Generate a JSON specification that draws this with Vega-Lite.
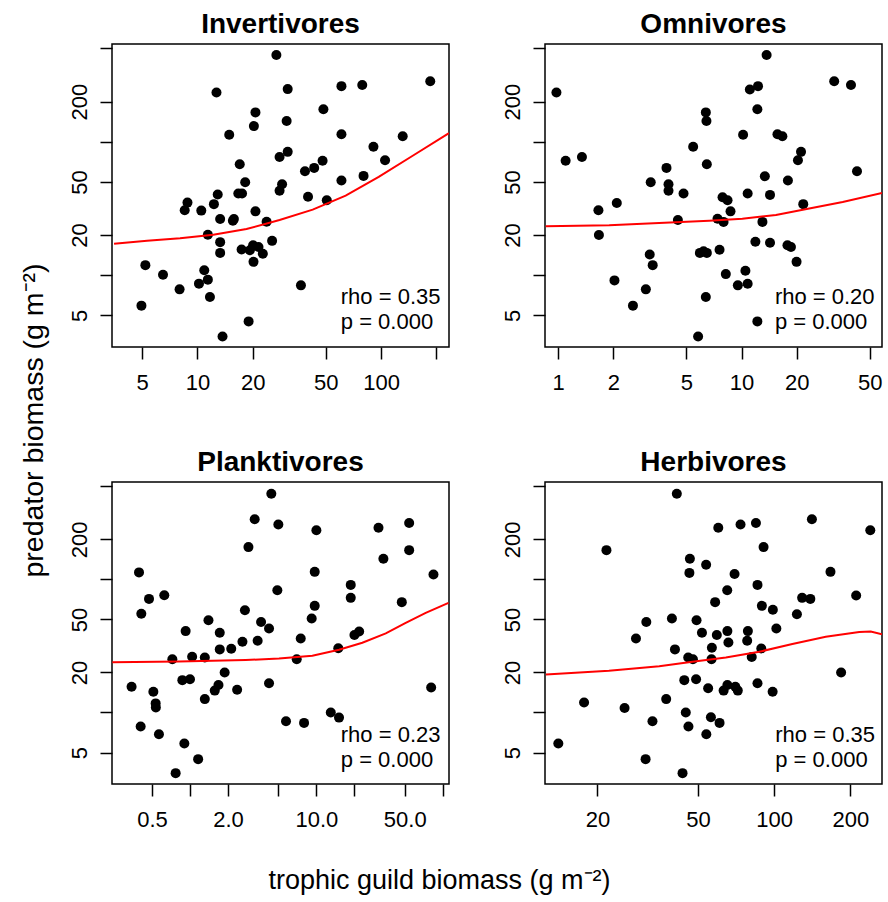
{
  "$schema": "https://vega.github.io/schema/vega-lite/v6.json",
  "background": "white",
  "padding": {"left": 18, "top": 10, "right": 5, "bottom": 3},
  "config": {
    "font": "Liberation Sans",
    "view": {"stroke": "black", "strokeWidth": 1.5},
    "axis": {"grid": false, "domain": false, "tickColor": "black", "tickWidth": 1.5, "tickSize": 12, "labelFont": "Liberation Sans", "labelFontSize": 22, "labelColor": "black", "labelOverlap": false, "labelFlush": false, "labelBound": false, "titleFont": "Liberation Sans", "titleFontSize": 27, "titleFontWeight": "normal", "titleColor": "black"},
    "axisX": {"labelPadding": 13},
    "axisY": {"labelPadding": 14, "labelAngle": 270, "labelAlign": "center", "labelBaseline": "alphabetic"},
    "title": {"font": "Liberation Sans", "fontSize": 28, "fontWeight": "bold", "color": "black", "anchor": "middle", "offset": 5, "baseline": "alphabetic"}
  },
  "datasets": {
    "inv_pts": [
      {"guild": 26.9, "predator": 446}, {"guild": 185, "predator": 284}, {"guild": 12.7, "predator": 234}, {"guild": 31.0, "predator": 248}, {"guild": 60.8, "predator": 261}, {"guild": 78.9, "predator": 266}, {"guild": 48.5, "predator": 175}, {"guild": 20.7, "predator": 166}, {"guild": 30.6, "predator": 143}, {"guild": 20.3, "predator": 131}, {"guild": 14.9, "predator": 113}, {"guild": 60.8, "predator": 114}, {"guild": 131, "predator": 110}, {"guild": 90.8, "predator": 91.7}, {"guild": 31.0, "predator": 84}, {"guild": 28.0, "predator": 76.9}, {"guild": 105, "predator": 72.6}, {"guild": 17.0, "predator": 67.9}, {"guild": 48.0, "predator": 72.0}, {"guild": 43.2, "predator": 63.7}, {"guild": 38.5, "predator": 60.1}, {"guild": 80.2, "predator": 55.5}, {"guild": 60.8, "predator": 51.2}, {"guild": 18.2, "predator": 49.8}, {"guild": 28.9, "predator": 48.1}, {"guild": 28.0, "predator": 42.9}, {"guild": 12.9, "predator": 40.2}, {"guild": 17.5, "predator": 40.9}, {"guild": 16.7, "predator": 40.9}, {"guild": 40.0, "predator": 38.7}, {"guild": 50.6, "predator": 36.5}, {"guild": 8.83, "predator": 35.0}, {"guild": 8.53, "predator": 30.7}, {"guild": 12.3, "predator": 34.1}, {"guild": 10.5, "predator": 30.5}, {"guild": 20.7, "predator": 30.1}, {"guild": 13.3, "predator": 26.4}, {"guild": 15.6, "predator": 25.6}, {"guild": 15.8, "predator": 26.4}, {"guild": 23.8, "predator": 25.2}, {"guild": 11.4, "predator": 20.1}, {"guild": 13.3, "predator": 17.7}, {"guild": 25.5, "predator": 18.1}, {"guild": 13.3, "predator": 14.7}, {"guild": 17.4, "predator": 15.6}, {"guild": 19.3, "predator": 15.4}, {"guild": 20.1, "predator": 16.8}, {"guild": 21.5, "predator": 16.3}, {"guild": 22.7, "predator": 14.5}, {"guild": 20.2, "predator": 12.6}, {"guild": 5.21, "predator": 11.9}, {"guild": 6.50, "predator": 10.1}, {"guild": 10.9, "predator": 10.9}, {"guild": 11.4, "predator": 9.27}, {"guild": 10.2, "predator": 8.65}, {"guild": 8.0, "predator": 7.84}, {"guild": 11.7, "predator": 6.88}, {"guild": 36.6, "predator": 8.40}, {"guild": 4.96, "predator": 5.92}, {"guild": 19.0, "predator": 4.51}, {"guild": 13.7, "predator": 3.48}
    ],
    "inv_fit": [
      {"guild": 3.52, "predator": 17.2}, {"guild": 5.32, "predator": 18.1}, {"guild": 8.05, "predator": 18.9}, {"guild": 12.2, "predator": 20.1}, {"guild": 18.5, "predator": 22.2}, {"guild": 28.0, "predator": 25.9}, {"guild": 42.4, "predator": 31.0}, {"guild": 64.1, "predator": 39.5}, {"guild": 97.0, "predator": 54.5}, {"guild": 147, "predator": 77.9}, {"guild": 227, "predator": 113}, {"guild": 234, "predator": 116}
    ],
    "inv_txt": [
      {"guild": 60.3, "predator": 6.86, "label": "rho = 0.35"}, {"guild": 60.3, "predator": 4.46, "label": "p = 0.000"}
    ],
    "omn_pts": [
      {"guild": 0.98, "predator": 234}, {"guild": 13.7, "predator": 446}, {"guild": 32.0, "predator": 284}, {"guild": 39.5, "predator": 266}, {"guild": 11.1, "predator": 246}, {"guild": 12.3, "predator": 261}, {"guild": 12.2, "predator": 175}, {"guild": 6.39, "predator": 166}, {"guild": 6.44, "predator": 143}, {"guild": 10.2, "predator": 113}, {"guild": 15.7, "predator": 114}, {"guild": 16.7, "predator": 110}, {"guild": 5.45, "predator": 91.7}, {"guild": 21.1, "predator": 84}, {"guild": 20.3, "predator": 72.6}, {"guild": 1.10, "predator": 72.0}, {"guild": 1.35, "predator": 76.9}, {"guild": 6.47, "predator": 67.9}, {"guild": 3.90, "predator": 63.7}, {"guild": 42.6, "predator": 60.1}, {"guild": 13.4, "predator": 55.2}, {"guild": 17.9, "predator": 51.2}, {"guild": 3.20, "predator": 49.8}, {"guild": 4.0, "predator": 48.1}, {"guild": 4.0, "predator": 42.9}, {"guild": 4.83, "predator": 40.9}, {"guild": 10.8, "predator": 40.9}, {"guild": 14.3, "predator": 40.0}, {"guild": 7.88, "predator": 38.4}, {"guild": 8.39, "predator": 36.5}, {"guild": 2.09, "predator": 34.8}, {"guild": 1.66, "predator": 30.7}, {"guild": 21.7, "predator": 34.1}, {"guild": 8.71, "predator": 30.1}, {"guild": 4.50, "predator": 25.9}, {"guild": 7.40, "predator": 26.5}, {"guild": 7.98, "predator": 25.1}, {"guild": 13.0, "predator": 25.1}, {"guild": 1.67, "predator": 20.0}, {"guild": 11.9, "predator": 17.8}, {"guild": 14.3, "predator": 17.5}, {"guild": 17.8, "predator": 16.8}, {"guild": 18.6, "predator": 16.3}, {"guild": 7.59, "predator": 15.5}, {"guild": 5.93, "predator": 14.7}, {"guild": 6.47, "predator": 14.7}, {"guild": 6.21, "predator": 15.1}, {"guild": 3.16, "predator": 14.3}, {"guild": 3.28, "predator": 11.9}, {"guild": 19.95, "predator": 12.6}, {"guild": 10.5, "predator": 10.8}, {"guild": 8.21, "predator": 10.2}, {"guild": 2.03, "predator": 9.15}, {"guild": 9.55, "predator": 8.40}, {"guild": 10.8, "predator": 8.64}, {"guild": 3.01, "predator": 7.84}, {"guild": 6.39, "predator": 6.88}, {"guild": 2.56, "predator": 5.92}, {"guild": 12.2, "predator": 4.51}, {"guild": 5.80, "predator": 3.48}
    ],
    "omn_fit": [
      {"guild": 0.857, "predator": 23.3}, {"guild": 1.90, "predator": 23.7}, {"guild": 4.38, "predator": 24.9}, {"guild": 6.66, "predator": 25.6}, {"guild": 10.1, "predator": 26.5}, {"guild": 15.4, "predator": 28.3}, {"guild": 23.4, "predator": 31.6}, {"guild": 35.6, "predator": 35.4}, {"guild": 58.3, "predator": 41.4}
    ],
    "omn_txt": [
      {"guild": 15.2, "predator": 6.86, "label": "rho = 0.20"}, {"guild": 15.2, "predator": 4.46, "label": "p = 0.000"}
    ],
    "plk_pts": [
      {"guild": 4.40, "predator": 441}, {"guild": 3.25, "predator": 283}, {"guild": 5.0, "predator": 259}, {"guild": 10.0, "predator": 234}, {"guild": 31.0, "predator": 245}, {"guild": 54.2, "predator": 266}, {"guild": 2.90, "predator": 175}, {"guild": 54.2, "predator": 166}, {"guild": 33.9, "predator": 143}, {"guild": 0.395, "predator": 113}, {"guild": 9.70, "predator": 114}, {"guild": 84.4, "predator": 109}, {"guild": 18.7, "predator": 91.0}, {"guild": 4.91, "predator": 83.0}, {"guild": 0.474, "predator": 71.4}, {"guild": 0.626, "predator": 76.1}, {"guild": 18.7, "predator": 72.7}, {"guild": 47.4, "predator": 67.5}, {"guild": 9.70, "predator": 63.3}, {"guild": 0.412, "predator": 55.2}, {"guild": 2.72, "predator": 58.7}, {"guild": 1.40, "predator": 49.4}, {"guild": 9.18, "predator": 50.9}, {"guild": 3.65, "predator": 47.8}, {"guild": 4.22, "predator": 42.8}, {"guild": 0.924, "predator": 40.9}, {"guild": 1.72, "predator": 39.7}, {"guild": 21.8, "predator": 40.6}, {"guild": 20.0, "predator": 38.2}, {"guild": 7.52, "predator": 36.0}, {"guild": 2.60, "predator": 34.0}, {"guild": 3.43, "predator": 34.6}, {"guild": 1.72, "predator": 29.8}, {"guild": 2.12, "predator": 30.1}, {"guild": 14.9, "predator": 30.4}, {"guild": 0.725, "predator": 25.1}, {"guild": 1.04, "predator": 26.2}, {"guild": 1.31, "predator": 25.9}, {"guild": 6.99, "predator": 25.1}, {"guild": 1.88, "predator": 20.0}, {"guild": 0.870, "predator": 17.5}, {"guild": 1.0, "predator": 17.8}, {"guild": 4.22, "predator": 16.6}, {"guild": 1.68, "predator": 16.1}, {"guild": 1.57, "predator": 14.6}, {"guild": 2.36, "predator": 14.8}, {"guild": 0.345, "predator": 15.6}, {"guild": 0.513, "predator": 14.3}, {"guild": 80.9, "predator": 15.4}, {"guild": 1.31, "predator": 12.6}, {"guild": 0.535, "predator": 11.7}, {"guild": 0.537, "predator": 10.9}, {"guild": 13.0, "predator": 10.0}, {"guild": 15.1, "predator": 9.15}, {"guild": 5.75, "predator": 8.59}, {"guild": 7.99, "predator": 8.35}, {"guild": 0.407, "predator": 7.84}, {"guild": 0.568, "predator": 6.86}, {"guild": 0.902, "predator": 5.84}, {"guild": 1.16, "predator": 4.46}, {"guild": 0.770, "predator": 3.50}
    ],
    "plk_fit": [
      {"guild": 0.243, "predator": 23.9}, {"guild": 0.818, "predator": 24.2}, {"guild": 2.76, "predator": 24.8}, {"guild": 5.06, "predator": 25.4}, {"guild": 9.29, "predator": 26.7}, {"guild": 15.1, "predator": 29.6}, {"guild": 23.1, "predator": 33.4}, {"guild": 35.4, "predator": 39.3}, {"guild": 50.9, "predator": 47.2}, {"guild": 73.3, "predator": 56.1}, {"guild": 111, "predator": 66.7}
    ],
    "plk_txt": [
      {"guild": 15.6, "predator": 6.78, "label": "rho = 0.23"}, {"guild": 15.6, "predator": 4.41, "label": "p = 0.000"}
    ],
    "hrb_pts": [
      {"guild": 41.2, "predator": 441}, {"guild": 141, "predator": 283}, {"guild": 73.6, "predator": 259}, {"guild": 84.7, "predator": 266}, {"guild": 60.1, "predator": 245}, {"guild": 240, "predator": 234}, {"guild": 21.7, "predator": 166}, {"guild": 90.8, "predator": 175}, {"guild": 46.4, "predator": 143}, {"guild": 53.8, "predator": 129}, {"guild": 46.2, "predator": 112}, {"guild": 69.7, "predator": 110}, {"guild": 167, "predator": 114}, {"guild": 85.9, "predator": 91.0}, {"guild": 65.2, "predator": 83.0}, {"guild": 129, "predator": 72.7}, {"guild": 139, "predator": 71.4}, {"guild": 211, "predator": 75.7}, {"guild": 58.4, "predator": 67.5}, {"guild": 89.4, "predator": 63.3}, {"guild": 98.8, "predator": 59.1}, {"guild": 123, "predator": 54.8}, {"guild": 31.2, "predator": 47.8}, {"guild": 39.4, "predator": 50.9}, {"guild": 49.3, "predator": 49.4}, {"guild": 28.4, "predator": 36.0}, {"guild": 51.8, "predator": 39.7}, {"guild": 59.3, "predator": 38.2}, {"guild": 65.3, "predator": 40.9}, {"guild": 78.7, "predator": 40.9}, {"guild": 102, "predator": 42.8}, {"guild": 65.9, "predator": 33.6}, {"guild": 78.2, "predator": 34.6}, {"guild": 40.5, "predator": 29.8}, {"guild": 56.7, "predator": 30.7}, {"guild": 88.9, "predator": 30.3}, {"guild": 45.7, "predator": 25.9}, {"guild": 47.7, "predator": 25.1}, {"guild": 56.5, "predator": 25.1}, {"guild": 81.5, "predator": 26.1}, {"guild": 184, "predator": 20.0}, {"guild": 44.1, "predator": 17.5}, {"guild": 49.1, "predator": 17.8}, {"guild": 54.8, "predator": 15.2}, {"guild": 63.1, "predator": 14.6}, {"guild": 65.3, "predator": 16.1}, {"guild": 70.2, "predator": 15.6}, {"guild": 71.8, "predator": 14.6}, {"guild": 85.9, "predator": 16.6}, {"guild": 98.6, "predator": 14.3}, {"guild": 17.7, "predator": 11.9}, {"guild": 25.6, "predator": 10.8}, {"guild": 37.4, "predator": 12.6}, {"guild": 44.7, "predator": 10.0}, {"guild": 33.0, "predator": 8.59}, {"guild": 45.8, "predator": 7.84}, {"guild": 56.2, "predator": 9.20}, {"guild": 60.8, "predator": 8.35}, {"guild": 53.9, "predator": 6.86}, {"guild": 14.0, "predator": 5.84}, {"guild": 31.0, "predator": 4.46}, {"guild": 43.4, "predator": 3.50}
    ],
    "hrb_fit": [
      {"guild": 12.5, "predator": 19.3}, {"guild": 22.2, "predator": 20.6}, {"guild": 35.1, "predator": 22.3}, {"guild": 47.5, "predator": 24.1}, {"guild": 64.4, "predator": 25.9}, {"guild": 87.3, "predator": 28.6}, {"guild": 118, "predator": 32.7}, {"guild": 160, "predator": 37.1}, {"guild": 217, "predator": 40.2}, {"guild": 241, "predator": 40.6}, {"guild": 267, "predator": 38.7}
    ],
    "hrb_txt": [
      {"guild": 101, "predator": 6.78, "label": "rho = 0.35"}, {"guild": 101, "predator": 4.41, "label": "p = 0.000"}
    ]
  },
  "columns": 2,
  "bounds": "flush",
  "spacing": {"row": 135, "column": 96},
  "concat": [
    {
      "width": 337, "height": 303,
      "title": {"text": "Invertivores"},
      "encoding": {
        "x": {"field": "guild", "type": "quantitative", "scale": {"type": "log", "domain": [3.43, 234], "nice": false}, "axis": {"title": null, "values": [5, 10, 20, 50, 100, 200], "format": "d", "labelExpr": "datum.value == 200 ? '' : datum.label"}},
        "y": {"field": "predator", "type": "quantitative", "scale": {"type": "log", "domain": [2.9, 540], "nice": false}, "axis": {"title": "predator biomass (g m⁻²)", "titleFontSize": 28.5, "titleAngle": 270, "titleAlign": "center", "titleBaseline": "alphabetic", "titleX": -70, "titleY": 376, "values": [5, 10, 20, 50, 100, 200, 500], "format": "d", "labelExpr": "(datum.value == 5 || datum.value == 20 || datum.value == 50 || datum.value == 200) ? datum.label : ''"}}
      },
      "layer": [
        {"data": {"name": "inv_pts"}, "mark": {"type": "circle", "size": 100, "color": "black", "opacity": 1}},
        {"data": {"name": "inv_fit"}, "mark": {"type": "line", "color": "#ff0000", "strokeWidth": 2, "clip": true}},
        {"data": {"name": "inv_txt"}, "mark": {"type": "text", "align": "left", "baseline": "middle", "fontSize": 22, "color": "black"}, "encoding": {"text": {"field": "label", "type": "nominal"}}}
      ]
    },
    {
      "width": 337, "height": 303,
      "title": {"text": "Omnivores"},
      "encoding": {
        "x": {"field": "guild", "type": "quantitative", "scale": {"type": "log", "domain": [0.849, 58.3], "nice": false}, "axis": {"title": null, "values": [1, 2, 5, 10, 20, 50], "format": "d"}},
        "y": {"field": "predator", "type": "quantitative", "scale": {"type": "log", "domain": [2.9, 540], "nice": false}, "axis": {"title": null, "values": [5, 10, 20, 50, 100, 200, 500], "format": "d", "labelExpr": "(datum.value == 5 || datum.value == 20 || datum.value == 50 || datum.value == 200) ? datum.label : ''"}}
      },
      "layer": [
        {"data": {"name": "omn_pts"}, "mark": {"type": "circle", "size": 100, "color": "black", "opacity": 1}},
        {"data": {"name": "omn_fit"}, "mark": {"type": "line", "color": "#ff0000", "strokeWidth": 2, "clip": true}},
        {"data": {"name": "omn_txt"}, "mark": {"type": "text", "align": "left", "baseline": "middle", "fontSize": 22, "color": "black"}, "encoding": {"text": {"field": "label", "type": "nominal"}}}
      ]
    },
    {
      "width": 337, "height": 302,
      "title": {"text": "Planktivores"},
      "encoding": {
        "x": {"field": "guild", "type": "quantitative", "scale": {"type": "log", "domain": [0.2415, 112], "nice": false}, "axis": {"title": "trophic guild biomass (g m⁻²)", "titleAlign": "center", "titleBaseline": "alphabetic", "titleAnchor": null, "titleX": 327, "titleY": 104, "values": [0.5, 1, 2, 5, 10, 20, 50, 100], "format": ".1f", "labelExpr": "(datum.value == 0.5 || datum.value == 2 || datum.value == 10 || datum.value == 50) ? datum.label : ''"}},
        "y": {"field": "predator", "type": "quantitative", "scale": {"type": "log", "domain": [2.9, 540], "nice": false}, "axis": {"title": null, "values": [5, 10, 20, 50, 100, 200, 500], "format": "d", "labelExpr": "(datum.value == 5 || datum.value == 20 || datum.value == 50 || datum.value == 200) ? datum.label : ''"}}
      },
      "layer": [
        {"data": {"name": "plk_pts"}, "mark": {"type": "circle", "size": 100, "color": "black", "opacity": 1}},
        {"data": {"name": "plk_fit"}, "mark": {"type": "line", "color": "#ff0000", "strokeWidth": 2, "clip": true}},
        {"data": {"name": "plk_txt"}, "mark": {"type": "text", "align": "left", "baseline": "middle", "fontSize": 22, "color": "black"}, "encoding": {"text": {"field": "label", "type": "nominal"}}}
      ]
    },
    {
      "width": 337, "height": 302,
      "title": {"text": "Herbivores"},
      "encoding": {
        "x": {"field": "guild", "type": "quantitative", "scale": {"type": "log", "domain": [12.4, 267], "nice": false}, "axis": {"title": null, "values": [20, 50, 100, 200], "format": "d"}},
        "y": {"field": "predator", "type": "quantitative", "scale": {"type": "log", "domain": [2.9, 540], "nice": false}, "axis": {"title": null, "values": [5, 10, 20, 50, 100, 200, 500], "format": "d", "labelExpr": "(datum.value == 5 || datum.value == 20 || datum.value == 50 || datum.value == 200) ? datum.label : ''"}}
      },
      "layer": [
        {"data": {"name": "hrb_pts"}, "mark": {"type": "circle", "size": 100, "color": "black", "opacity": 1}},
        {"data": {"name": "hrb_fit"}, "mark": {"type": "line", "color": "#ff0000", "strokeWidth": 2, "clip": true}},
        {"data": {"name": "hrb_txt"}, "mark": {"type": "text", "align": "left", "baseline": "middle", "fontSize": 22, "color": "black"}, "encoding": {"text": {"field": "label", "type": "nominal"}}}
      ]
    }
  ]
}
